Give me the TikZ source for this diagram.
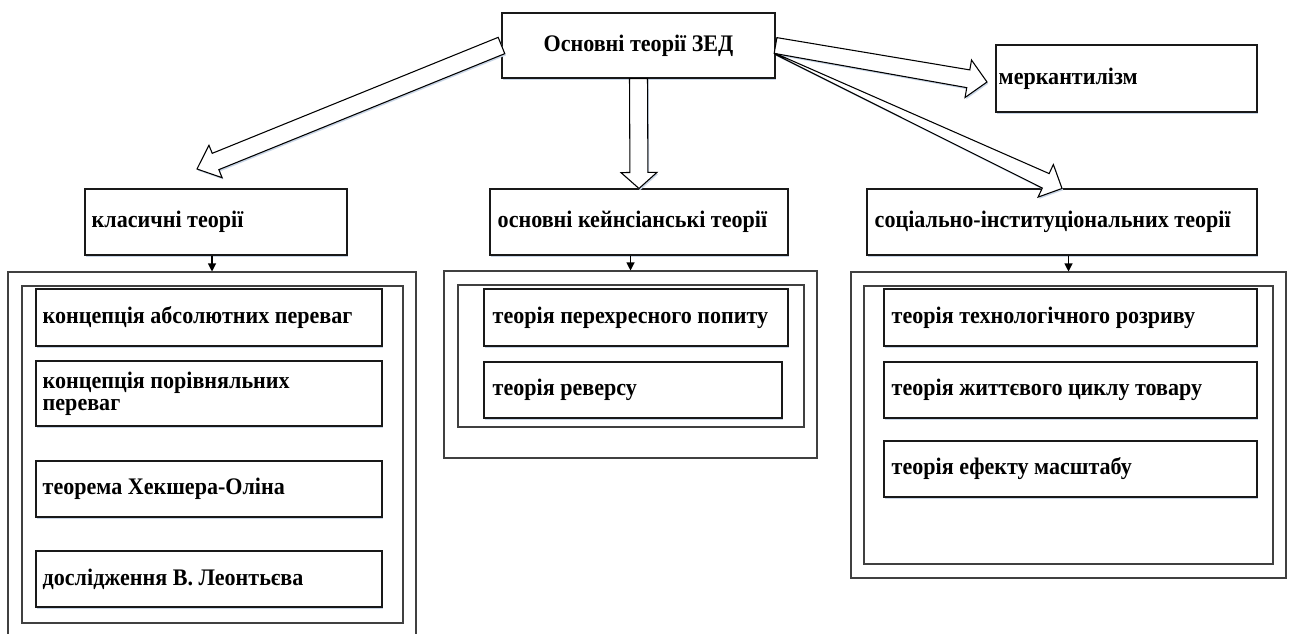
\documentclass[tikz,border=0pt]{standalone}
\usepackage{fontspec}
\setmainfont{Liberation Serif}[FakeStretch=0.93]
\usetikzlibrary{calc,arrows.meta,shadows}
\definecolor{shadowc}{RGB}{200,213,230}
\pgfdeclarelayer{bg}
\pgfsetlayers{bg,main}
\tikzset{
  bx/.style={draw=black!90, line width=0.8pt, fill=white, inner sep=0pt,
    general shadow={fill=shadowc, shadow xshift=0.9pt, shadow yshift=-1.3pt}},
  frm/.style={draw=black!75, line width=0.8pt, inner sep=0pt},
  lbl/.style={anchor=west, inner sep=0pt, align=left,
    font=\bfseries\fontsize{17.8}{16.5}\selectfont},
  barrow/.style={fill=white, draw=black, line width=0.8pt, line join=miter},
  sarr/.style={-{Triangle[width=6pt,length=6pt]}, line width=0.8pt}
}
\newcommand\bxnode[7]{% name, x1, y1, x2, y2, pad, text
  \pgfmathsetmacro\bxw{(#4-#2)*0.75}%
  \pgfmathsetmacro\bxh{(#5-#3)*0.75}%
  \pgfmathsetmacro\bxp{#6*0.75}%
  \node[bx,minimum width=\bxw pt,minimum height=\bxh pt,
    label={[lbl,xshift=\bxp pt]west:#7}] (#1) at ({(#2+#4)/2},{(#3+#5)/2}) {};}
\newcommand\frnode[5]{% name, x1, y1, x2, y2
  \pgfmathsetmacro\bxw{(#4-#2)*0.75}%
  \pgfmathsetmacro\bxh{(#5-#3)*0.75}%
  \node[frm,minimum width=\bxw pt,minimum height=\bxh pt] (#1) at ({(#2+#4)/2},{(#3+#5)/2}) {};}
\newcommand\arrpath[3]{% start, tip, style
  \path[#3] ($(#1)!\sa pt!90:(#2)$) -- ($(bah)!\sb pt!90:(#2)$) -- ($(bah)!\sc pt!90:(#2)$)
    -- (#2) -- ($(bah)!\sc pt!-90:(#2)$) -- ($(bah)!\sb pt!-90:(#2)$)
    -- ($(#1)!\sa pt!-90:(#2)$) -- cycle;}
\newcommand\blockarr[6]{% start, tip, start half, shaft half, head half, head length (px)
  \pgfmathsetmacro\sa{#3*0.75}%
  \pgfmathsetmacro\sb{#4*0.75}%
  \pgfmathsetmacro\sc{#5*0.75}%
  \pgfmathsetmacro\sl{#6*0.75}%
  \coordinate (bah) at ($(#2)!\sl pt!(#1)$);
  \arrpath{#1}{#2}{fill=shadowc, transform canvas={shift={(0.9pt,-1.3pt)}}}
  \arrpath{#1}{#2}{barrow}}
\begin{document}
\begin{tikzpicture}[x=0.75pt,y=-0.75pt]
\useasboundingbox (0,0) rectangle (1291,633);
\begin{pgfonlayer}{bg}
  \fill[white] (0,0) rectangle (1291,633);
\end{pgfonlayer}

% top row
\node[bx, minimum width=204.75pt, minimum height=48.75pt,
  font=\bfseries\fontsize{17.8}{16.5}\selectfont] (top) at (638.5,45.5) {Основні теорії ЗЕД};
\bxnode{merc}{996}{45}{1257}{112}{3}{меркантилізм}
\bxnode{klas}{85}{189}{347}{255}{7}{класичні теорії}
\bxnode{keyn}{490}{189}{788}{255}{8}{основні кейнсіанські теорії}
\bxnode{soc}{867}{189}{1257}{255}{8}{соціально-інституціональних теорії}

% frames
\frnode{lo}{8}{272}{416}{650}
\frnode{li}{22}{286}{403}{623}
\frnode{mo}{444}{271}{817}{458}
\frnode{mi}{458}{285}{804}{427}
\frnode{ro}{851}{272}{1286}{578}
\frnode{ri}{864}{286}{1273}{564}

% left group
\bxnode{l1}{36}{289}{382}{346}{7}{концепція абсолютних переваг}
\bxnode{l2}{36}{361}{382}{426}{7}{концепція порівняльних\\переваг}
\bxnode{l3}{36}{461}{382}{517}{7}{теорема Хекшера-Оліна}
\bxnode{l4}{36}{551}{382}{607}{7}{дослідження В. Леонтьєва}

% middle group
\bxnode{m1}{484}{289}{788}{346}{9}{теорія перехресного попиту}
\bxnode{m2}{484}{362}{782}{418}{9}{теорія реверсу}

% right group
\bxnode{r1}{884}{289}{1257}{346}{8}{теорія технологічного розриву}
\bxnode{r2}{884}{362}{1257}{418}{8}{теорія життєвого циклу товару}
\bxnode{r3}{884}{441}{1257}{497}{8}{теорія ефекту масштабу}

% small arrows
\draw[sarr] (lo.north |- klas.south) -- (lo.north);
\draw[sarr] (mo.north |- keyn.south) -- (mo.north);
\draw[sarr] (ro.north |- soc.south) -- (ro.north);

% block arrows
\coordinate (tipL) at (197,169);
\coordinate (tipM) at (987,82);
\coordinate (s2) at ($(top.east)+(0,8.5)$);
\blockarr{top.west}{tipL}{8.8}{8.8}{17.5}{20}
\blockarr{top.south}{keyn.north}{9}{9}{18}{16}
\blockarr{top.east}{tipM}{8}{9}{19}{19}
\blockarr{s2}{soc.north}{0.5}{8}{18}{18}
\end{tikzpicture}
\end{document}
